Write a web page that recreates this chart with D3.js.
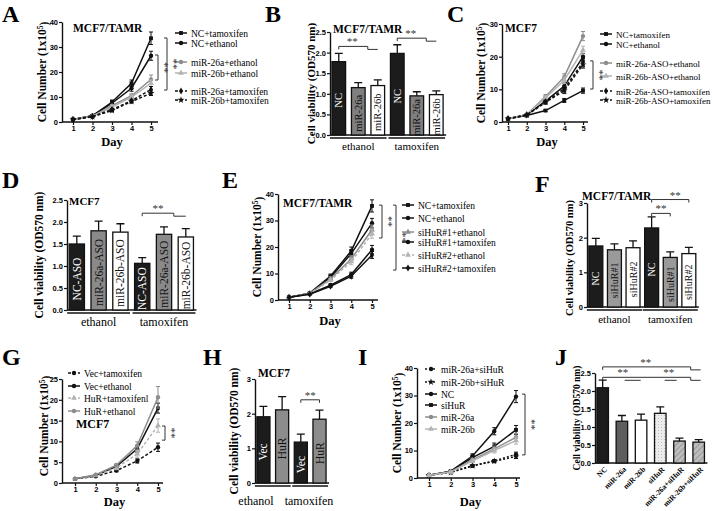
<!DOCTYPE html>
<html>
<head>
<script src="https://cdn.jsdelivr.net/npm/d3@7"></script>
<style>
  body { margin: 0; background: #fff; }
  text { font-family: "Liberation Serif", "Times New Roman", serif; }
  .tick text { font-family: "Liberation Sans", Arial, sans-serif; font-weight: bold; font-size: 7.5px; }
</style>
</head>
<body>
<script>
const days = [1, 2, 3, 4, 5];

// A - MCF7/TAMR growth
const aNames = ["NC+tamoxifen", "NC+ethanol", "miR-26a+ethanol", "miR-26b+ethanol", "miR-26a+tamoxifen", "miR-26b+tamoxifen"];
const aMeans = [[1, 2.5, 8, 15.5, 33.5], [1, 2.5, 7.5, 13.5, 26.5], [1, 2.3, 6.5, 10.5, 17], [1, 2.3, 6, 10, 15.5], [1, 2.2, 5, 8.5, 13], [1, 2.1, 4.6, 8.2, 11.5]];
const aErrs = [[0.3, 0.3, 0.8, 1.3, 2.5], [0.3, 0.3, 0.7, 1.2, 1.8], [0.2, 0.3, 0.5, 0.8, 1.8], [0.2, 0.3, 0.5, 0.8, 1.3], [0.2, 0.2, 0.4, 0.6, 1.2], [0.2, 0.2, 0.4, 0.5, 0.9]];

// B - viability MCF7/TAMR
const bLabels = ["NC", "miR-26a", "miR-26b", "NC", "miR-26a", "miR-26b"];
const bMeans = [1.78, 1.15, 1.2, 1.98, 0.95, 0.98];
const bErrs = [0.2, 0.12, 0.14, 0.21, 0.1, 0.09];

// C - MCF7 growth
const cNames = ["NC+tamoxifen", "NC+ethanol", "miR-26a-ASO+ethanol", "miR-26b-ASO+ethanol", "miR-26a-ASO+tamoxifen", "miR-26b-ASO+tamoxifen"];
const cMeans = [[1, 2, 3.5, 6.6, 9.6], [1, 2.2, 6.4, 11, 20], [1, 2.3, 7.8, 13.8, 26.3], [1, 2.3, 7.4, 12.8, 22], [1, 2.2, 6.2, 10.2, 18.3], [1, 2.1, 6, 9.6, 17.6]];
const cErrs = [[0.1, 0.2, 0.3, 0.6, 0.8], [0.1, 0.2, 0.5, 0.9, 1], [0.1, 0.2, 0.6, 1, 1.4], [0.1, 0.2, 0.6, 1, 1.2], [0.1, 0.2, 0.5, 0.9, 1.2], [0.1, 0.2, 0.5, 0.9, 1.1]];

// D - viability MCF7 ASO
const dLabels = ["NC-ASO", "miR-26a-ASO", "miR-26b-ASO", "NC-ASO", "miR-26a-ASO", "miR-26b-ASO"];
const dMeans = [1.5, 1.8, 1.77, 1.06, 1.72, 1.66];
const dErrs = [0.18, 0.22, 0.19, 0.13, 0.17, 0.19];

// E - siHuR growth
const eNames = ["NC+tamoxifen", "NC+ethanol", "siHuR#1+ethanol", "siHuR#1+tamoxifen", "siHuR#2+ethanol", "siHuR#2+tamoxifen"];
const eMeans = [[1, 2.6, 9, 18.5, 35.5], [1, 2.5, 8.5, 17.5, 29], [1, 2.5, 8, 15.5, 26.5], [1, 2.3, 5.6, 9.6, 19], [1, 2.4, 7.5, 14.5, 25], [1, 2.2, 5.2, 9, 17]];
const eErrs = [[0.3, 0.3, 0.8, 1.5, 2.3], [0.3, 0.3, 0.7, 1.3, 1.8], [0.3, 0.3, 0.7, 1.2, 1.8], [0.2, 0.3, 0.5, 0.9, 1.6], [0.2, 0.3, 0.6, 1.2, 1.7], [0.2, 0.2, 0.5, 0.8, 1.3]];

// F - viability siHuR
const fLabels = ["NC", "siHuR#1", "siHuR#2", "NC", "siHuR#1", "siHuR#2"];
const fMeans = [1.76, 1.65, 1.71, 2.28, 1.43, 1.54];
const fErrs = [0.22, 0.17, 0.2, 0.32, 0.16, 0.18];

// G - HuR overexpression growth
const gNames = ["Vec+tamoxifen", "Vec+ethanol", "HuR+tamoxifenl", "HuR+ethanol"];
const gMeans = [[1, 1.6, 3, 5.3, 8.6], [1, 1.8, 4, 8.2, 18], [1, 1.8, 3.6, 7, 13.8], [1, 2, 4.3, 9, 20.6]];
const gErrs = [[0.1, 0.2, 0.3, 0.5, 1], [0.1, 0.2, 0.4, 0.8, 1.2], [0.1, 0.2, 0.4, 0.8, 1.6], [0.1, 0.2, 0.4, 0.9, 2.6]];

// H - viability HuR
const hLabels = ["Vec", "HuR", "Vec", "HuR"];
const hMeans = [1.91, 2.11, 1.18, 1.84];
const hErrs = [0.3, 0.38, 0.23, 0.26];

// I - rescue growth
const iNames = ["miR-26a+siHuR", "miR-26b+siHuR", "NC", "siHuR", "miR-26a", "miR-26b"];
const iMeans = [[1, 2.2, 4.5, 6.2, 8.6], [1, 2, 4.4, 6.1, 7.8], [1, 2.5, 8, 17, 29.6], [1, 2.4, 7.4, 11.5, 17.5], [1, 2.3, 6.6, 10.6, 14.8], [1, 2.2, 6.2, 10, 13.6]];
const iErrs = [[0.2, 0.2, 0.4, 0.5, 0.8], [0.2, 0.2, 0.4, 0.5, 0.7], [0.3, 0.3, 0.8, 1.3, 2.2], [0.2, 0.3, 0.7, 1.2, 1.6], [0.2, 0.3, 0.6, 1, 1.4], [0.2, 0.3, 0.6, 0.9, 1.3]];

// J - viability rescue
const jLabels = ["NC", "miR-26a", "miR-26b", "siHuR", "miR-26a+siHuR", "miR-26b+siHuR"];
const jMeans = [2.09, 1.16, 1.19, 1.38, 0.61, 0.58];
const jErrs = [0.21, 0.16, 0.17, 0.18, 0.08, 0.07];

const groups = ["ethanol", "tamoxifen"];

// ---------------------------------------------------------------
const BLK = "#111", G1 = "#8c8c8c", G2 = "#b3b3b3";
const symbols = { square: d3.symbolSquare, circle: d3.symbolCircle, triangle: d3.symbolTriangle, diamond: d3.symbolDiamond, star: d3.symbolStar };

const svg = d3.select("body").append("svg").attr("width", 713).attr("height", 511);
const defs = svg.append("defs");
const hatch = defs.append("pattern").attr("id", "hatch").attr("width", 4).attr("height", 4)
  .attr("patternUnits", "userSpaceOnUse").attr("patternTransform", "rotate(45)");
hatch.append("rect").attr("width", 4).attr("height", 4).attr("fill", "#bdbdbd");
hatch.append("line").attr("x1", 0).attr("y1", 0).attr("x2", 0).attr("y2", 4).attr("stroke", "#8a8a8a").attr("stroke-width", 1.5);
const dots = defs.append("pattern").attr("id", "dots").attr("width", 3).attr("height", 3).attr("patternUnits", "userSpaceOnUse");
dots.append("rect").attr("width", 3).attr("height", 3).attr("fill", "#ededed");
dots.append("circle").attr("cx", 1.5).attr("cy", 1.5).attr("r", 0.6).attr("fill", "#bbb");

function letter(t, x, y) {
  svg.append("text").attr("x", x).attr("y", y).attr("font-size", 24).attr("font-weight", "bold").text(t);
}

function styleAxis(sel) {
  sel.selectAll("line").attr("stroke", BLK).attr("stroke-width", 1.2);
  sel.select(".domain").attr("stroke", BLK).attr("stroke-width", 1.4);
}

function yLabel(g, x, y, size, cellNumber) {
  const t = g.append("text").attr("transform", `translate(${x},${y}) rotate(-90)`)
    .attr("text-anchor", "middle").attr("dy", "0.35em").attr("font-size", size).attr("font-weight", "bold");
  if (cellNumber) {
    t.append("tspan").text("Cell Number (1x10");
    t.append("tspan").attr("dy", "-0.45em").attr("font-size", size * 0.65).text("5");
    t.append("tspan").attr("dy", "0.45em").text(")");
  } else {
    t.text("Cell viability (OD570 nm)");
  }
}

function vStars(g, x, y) {
  g.append("text").attr("transform", `translate(${x},${y}) rotate(90)`).attr("text-anchor", "middle")
    .attr("font-size", 11).attr("fill", "#333").text("**");
}

function lineChart(L, names, means, errs, styles) {
  const g = svg.append("g");
  const x = d3.scaleLinear().domain([1, 5]).range([L.x1, L.x5]);
  const y = d3.scaleLinear().domain([0, L.yMax]).range([L.yBot, L.yTop]);

  g.append("g").attr("transform", `translate(${L.axX},0)`)
    .call(d3.axisLeft(y).tickValues(d3.range(0, L.yMax + 0.01, L.yStep)).tickFormat(d3.format("d"))
      .tickSize(3).tickSizeOuter(0).tickPadding(1))
    .call(styleAxis);
  g.append("g").attr("transform", `translate(0,${L.yBot})`)
    .call(d3.axisBottom(x).tickValues(days).tickFormat(d3.format("d")).tickSize(3).tickSizeOuter(0).tickPadding(1))
    .call(styleAxis).call(s => s.select(".domain").remove());
  g.append("line").attr("x1", L.axX).attr("x2", L.axEnd).attr("y1", L.yBot).attr("y2", L.yBot)
    .attr("stroke", BLK).attr("stroke-width", 1.4);

  const line = d3.line().x((d, i) => x(days[i])).y(d => y(d));
  means.forEach((m, k) => {
    const st = styles[k];
    g.append("path").datum(m).attr("d", line).attr("fill", "none").attr("stroke", st.c)
      .attr("stroke-width", 1.5).attr("stroke-dasharray", st.dash);
    m.forEach((v, i) => {
      const e = errs[k][i], cx = x(days[i]);
      g.append("path").attr("d", `M${cx},${y(v - e)}V${y(v + e)}M${cx - 2},${y(v + e)}H${cx + 2}M${cx - 2},${y(v - e)}H${cx + 2}`)
        .attr("stroke", st.c).attr("stroke-width", 1).attr("fill", "none");
      g.append("path").attr("d", d3.symbol(symbols[st.sym], 15)()).attr("transform", `translate(${cx},${y(v)})`).attr("fill", st.c);
    });
  });

  // legend
  names.forEach((n, k) => {
    const st = styles[k], ly = L.legY[k];
    g.append("line").attr("x1", L.legX).attr("x2", L.legX + 12).attr("y1", ly).attr("y2", ly)
      .attr("stroke", st.c).attr("stroke-width", 1.5).attr("stroke-dasharray", st.dash);
    g.append("path").attr("d", d3.symbol(symbols[st.sym], 15)()).attr("transform", `translate(${L.legX + 6},${ly})`).attr("fill", st.c);
    g.append("text").attr("x", L.legX + 16).attr("y", ly + 3.5).attr("font-size", L.legSize || 9.5).text(n);
  });

  // brackets
  L.brackets.forEach(b => {
    g.append("path").attr("d", `M${b.x - 3},${y(b.top)}H${b.x}V${y(b.bot)}H${b.x - 3}`)
      .attr("fill", "none").attr("stroke", "#333").attr("stroke-width", 1);
    vStars(g, b.x + 3, (y(b.top) + y(b.bot)) / 2);
  });

  yLabel(g, L.labX, (L.yTop + L.yBot) / 2 + (L.labDy || 0), 11.5, true);
  g.append("text").attr("x", (L.axX + L.axEnd) / 2 + 2).attr("y", L.dayY).attr("text-anchor", "middle")
    .attr("font-size", 12.5).attr("font-weight", "bold").text("Day");
  if (L.title) g.append("text").attr("x", L.title[0]).attr("y", L.title[1]).attr("font-size", L.title[2])
    .attr("font-weight", "bold").text(L.title[3]);
}

function barChart(L, labels, means, errs, fills, inks) {
  const g = svg.append("g");
  const n = means.length;
  const x = d3.scaleBand().domain(d3.range(n))
    .range([L.axX, L.axX + L.step * (n - L.pi + 2 * 0.1)]).paddingInner(L.pi).paddingOuter(0.1);
  const y = d3.scaleLinear().domain([0, L.yMax]).range([L.yBot, L.yTop]);
  const bw = x.bandwidth();

  g.append("g").attr("transform", `translate(${L.axX},0)`)
    .call(d3.axisLeft(y).tickValues(d3.range(0, L.yMax + 0.01, L.yStep)).tickFormat(d3.format(L.fmt))
      .tickSize(3).tickSizeOuter(0).tickPadding(1))
    .call(styleAxis);
  g.append("line").attr("x1", L.axX).attr("x2", x(n - 1) + bw + 3).attr("y1", L.yBot).attr("y2", L.yBot)
    .attr("stroke", BLK).attr("stroke-width", 1.4);

  means.forEach((v, i) => {
    const cx = x(i) + bw / 2, e = errs[i];
    g.append("path").attr("d", `M${cx},${y(v)}V${y(v + e)}M${cx - 4},${y(v + e)}H${cx + 4}`)
      .attr("stroke", BLK).attr("stroke-width", 1.3);
    g.append("rect").attr("x", x(i)).attr("y", y(v)).attr("width", bw).attr("height", L.yBot - y(v))
      .attr("fill", fills[i]).attr("stroke", BLK).attr("stroke-width", 1.3);
    if (L.inside) {
      g.append("text").attr("transform", `translate(${cx},${(y(v) + L.yBot) / 2 + 2}) rotate(-90)`)
        .attr("text-anchor", "middle").attr("dy", "0.35em").attr("font-size", L.inside)
        .attr("fill", inks[i]).text(labels[i]);
    }
  });

  if (L.grouped) {
    const per = n / 2;
    groups.forEach((gname, k) => {
      const a = x(k * per) - 2, b = x(k * per + per - 1) + bw + 2;
      g.append("line").attr("x1", a).attr("x2", b).attr("y1", L.yBot + 3).attr("y2", L.yBot + 3)
        .attr("stroke", BLK).attr("stroke-width", 1.3);
      g.append("text").attr("x", L.groupX ? L.groupX[k] : (a + b) / 2).attr("y", L.groupY).attr("text-anchor", "middle")
        .attr("font-size", L.groupSize).text(gname);
    });
  } else {
    labels.forEach((t, i) => {
      g.append("text").attr("transform", `translate(${x(i) + bw / 2 + 3},${L.yBot + 5}) rotate(-45)`)
        .attr("text-anchor", "end").attr("dy", "0.35em").attr("font-size", 7.5).attr("font-weight", "bold").text(t);
    });
  }

  // significance
  (L.sig || []).forEach(s => {
    const xa = x(s.from) + bw / 2, xb = x(s.to) + bw / 2, yy = y(s.y);
    g.append("path").attr("d", s.path ? s.path(xa, xb, yy) : `M${xa},${yy + 3}V${yy}H${xb}V${yy + 3}`)
      .attr("fill", "none").attr("stroke", "#333").attr("stroke-width", 1);
    (s.stars || [(a, b) => (a + b) / 2]).forEach(sx => {
      g.append("text").attr("x", sx(xa, xb)).attr("y", yy - 1).attr("text-anchor", "middle")
        .attr("font-size", 11).attr("fill", "#333").text("**");
    });
  });

  yLabel(g, L.labX, (L.yTop + L.yBot) / 2 + (L.labDy || 0), L.labSize, false);
  if (L.title) g.append("text").attr("x", L.title[0]).attr("y", L.title[1]).attr("font-size", L.title[2])
    .attr("font-weight", "bold").text(L.title[3]);
}

// styles
const styleAC = [
  { c: BLK, dash: null, sym: "square" }, { c: BLK, dash: null, sym: "circle" },
  { c: G1, dash: null, sym: "circle" }, { c: G2, dash: null, sym: "triangle" },
  { c: BLK, dash: "3,2", sym: "diamond" }, { c: BLK, dash: "3,2", sym: "star" }
];
const styleE = [
  { c: BLK, dash: null, sym: "square" }, { c: BLK, dash: null, sym: "circle" },
  { c: G1, dash: null, sym: "triangle" }, { c: BLK, dash: null, sym: "circle" },
  { c: G2, dash: "3,2", sym: "triangle" }, { c: BLK, dash: null, sym: "diamond" }
];
const styleG = [
  { c: BLK, dash: "3,2", sym: "circle" }, { c: BLK, dash: null, sym: "circle" },
  { c: G2, dash: "3,2", sym: "triangle" }, { c: G1, dash: null, sym: "circle" }
];
const styleI = [
  { c: BLK, dash: "2,2", sym: "circle" }, { c: BLK, dash: "2,2", sym: "star" },
  { c: BLK, dash: null, sym: "circle" }, { c: BLK, dash: null, sym: "square" },
  { c: G1, dash: null, sym: "circle" }, { c: G2, dash: null, sym: "triangle" }
];

// ---- panels ----
letter("A", 2, 22); letter("B", 265, 22); letter("C", 447, 22);
letter("D", 2, 188); letter("E", 222, 188); letter("F", 535, 192);
letter("G", 2, 365); letter("H", 203, 365); letter("I", 358, 365); letter("J", 555, 365);

lineChart({ axX: 62, axEnd: 158, x1: 73, x5: 151, yTop: 22, yBot: 122, yMax: 40, yStep: 10,
  labX: 42, dayY: 146, title: [73, 32, 11.5, "MCF7/TAMR"],
  legX: 175, legY: [33, 43, 62, 73, 91, 100],
  brackets: [{ x: 158, top: 26.8, bot: 16.8 }, { x: 167, top: 33.6, bot: 12.8 }] },
  aNames, aMeans, aErrs, styleAC);

barChart({ axX: 330, step: 19.5, pi: 0.3, yTop: 32, yBot: 135, yMax: 2.5, yStep: 0.5, fmt: ".1f",
  labX: 311, labSize: 11, grouped: true, groupY: 150, groupSize: 11, inside: 10.5,
  title: [333, 33, 11.5, "MCF7/TAMR"],
  sig: [{ from: 0, to: 2, y: 2.15, path: (a, b, yy) => `M${a},${yy + 3}V${yy}H${b - 10}V${yy + 3}H${b}`, stars: [(a, b) => (a + b) / 2 - 6] },
        { from: 3, to: 5, y: 2.35, path: (a, b, yy) => `M${a},${yy + 3}V${yy}H${b - 10}V${yy + 3}H${b}`, stars: [(a, b) => (a + b) / 2 - 6] }] },
  bLabels, bMeans, bErrs, ["#1c1c1c", "#7f7f7f", "#fff", "#1c1c1c", "#7f7f7f", "#fff"], ["#fff", BLK, BLK, "#fff", BLK, BLK]);

lineChart({ axX: 502, axEnd: 588, x1: 508, x5: 583, yTop: 24, yBot: 122, yMax: 30, yStep: 10,
  labX: 481, dayY: 146, title: [505, 32, 11.5, "MCF7"],
  legX: 600, legY: [34, 44, 63, 76, 91, 100], legSize: 9,
  brackets: [{ x: 593, top: 18.7, bot: 10.1 }] },
  cNames, cMeans, cErrs, styleAC);

barChart({ axX: 67, step: 21.8, pi: 0.3, yTop: 200, yBot: 310, yMax: 2.5, yStep: 0.5, fmt: ".1f",
  labX: 39, labSize: 11.5, grouped: true, groupY: 326, groupSize: 12, inside: 11.5,
  title: [69, 205, 11, "MCF7"],
  sig: [{ from: 3, to: 5, y: 2.2, path: (a, b, yy) => `M${a},${yy + 3}V${yy}H${b - 12}V${yy + 3}H${b}`, stars: [(a, b) => (a + b) / 2 - 6] }] },
  dLabels, dMeans, dErrs, ["#1c1c1c", "#8a8a8a", "#fff", "#1c1c1c", "#8a8a8a", "#fff"], ["#fff", BLK, BLK, "#fff", BLK, BLK]);

lineChart({ axX: 278, axEnd: 378, x1: 289, x5: 372, yTop: 194, yBot: 300, yMax: 40, yStep: 10,
  labX: 257, dayY: 325, title: [283, 207, 11.5, "MCF7/TAMR"],
  legX: 402, legY: [205, 218, 232, 242, 255, 268],
  brackets: [{ x: 382, top: 35.8, bot: 23.4 }, { x: 396, top: 35.8, bot: 11.3 }] },
  eNames, eMeans, eErrs, styleE);

barChart({ axX: 587, step: 18.6, pi: 0.25, yTop: 203, yBot: 307, yMax: 3, yStep: 1, fmt: "d",
  labX: 569, labDy: 3, labSize: 10.5, grouped: true, groupY: 323, groupSize: 11, inside: 10,
  title: [582, 200, 11.5, "MCF7/TAMR"],
  sig: [{ from: 3, to: 4, y: 2.7 }, { from: 3, to: 5, y: 3.1, stars: [(a, b) => (a + b) / 2 + 5] }] },
  fLabels, fMeans, fErrs, ["#1c1c1c", "#9a9a9a", "#fff", "#1c1c1c", "#9a9a9a", "#fff"], ["#fff", BLK, BLK, "#fff", BLK, BLK]);

lineChart({ axX: 62, axEnd: 163, x1: 75, x5: 158, yTop: 379, yBot: 483, yMax: 25, yStep: 5,
  labX: 44, labDy: -5, dayY: 506, title: [76, 428, 12, "MCF7"],
  legX: 68, legY: [373, 386, 398, 411],
  brackets: [{ x: 165, top: 13.7, bot: 10.3 }] },
  gNames, gMeans, gErrs, styleG);

barChart({ axX: 255, step: 18.7, pi: 0.3, yTop: 379, yBot: 483, yMax: 3, yStep: 1, fmt: "d",
  labX: 234, labSize: 11.5, grouped: true, groupY: 505, groupSize: 12, groupX: [256, 309], inside: 11.5,
  title: [258, 377, 11.5, "MCF7"],
  sig: [{ from: 2, to: 3, y: 2.4 }] },
  hLabels, hMeans, hErrs, ["#1c1c1c", "#8c8c8c", "#1c1c1c", "#8c8c8c"], ["#fff", BLK, "#fff", BLK]);

lineChart({ axX: 417, axEnd: 520, x1: 429, x5: 516, yTop: 368, yBot: 478, yMax: 40, yStep: 10,
  labX: 397, dayY: 506,
  legX: 425, legY: [369, 382, 394, 405, 417, 429],
  brackets: [{ x: 525, top: 30.5, bot: 8.4 }] },
  iNames, iMeans, iErrs, styleI);

barChart({ axX: 595, step: 19.2, pi: 0.4, yTop: 373, yBot: 463, yMax: 2.5, yStep: 0.5, fmt: ".1f",
  labX: 577, labSize: 9.5, grouped: false,
  sig: [{ from: 0, to: 5, y: 2.67, path: (a, b, yy) => `M${a},${yy + 3}V${yy}H${b - 8}V${yy + 3}H${b + 2}`, stars: [(a, b) => (a + b) / 2 - 5] },
        { from: 0, to: 5, y: 2.38, path: (a, b, yy) => `M${a},${yy + 3}V${yy}H${b - 8}V${yy + 3}H${b + 2}M${a + 22},${yy + 3}H${a + 38}M${a + 62},${yy + 3}H${a + 74}`,
          stars: [(a, b) => a + 20, (a, b) => a + 66] }] },
  jLabels, jMeans, jErrs, ["#1c1c1c", "#5e5e5e", "#fff", "url(#dots)", "url(#hatch)", "url(#hatch)"], []);
</script>
</body>
</html>
